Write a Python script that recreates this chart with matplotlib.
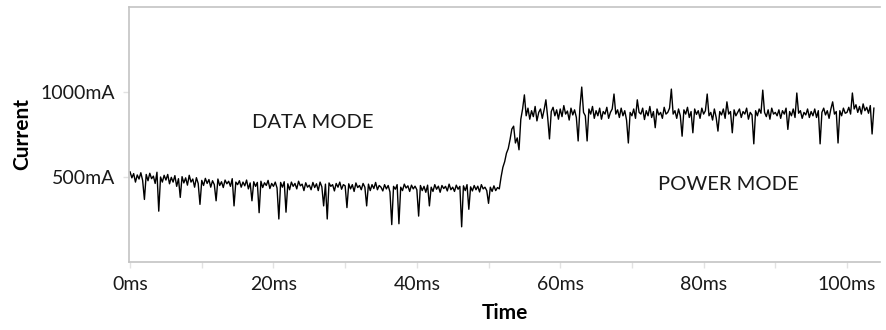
import matplotlib
matplotlib.use("Agg")
import matplotlib.pyplot as plt
import numpy as np

plt.rcParams['font.family'] = ['Lato', 'DejaVu Sans']

dt_ms = 0.25
current_ma = [
    530, 495, 520, 470, 512, 488, 525, 480, 368, 515, 478, 522, 490, 505, 462, 528, 299, 500, 470, 510,
    482, 515, 460, 498, 470, 508, 445, 490, 380, 502, 465, 495, 452, 510, 470, 488, 440, 496, 462, 339,
    480, 450, 492, 462, 485, 440, 478, 455, 360, 488, 450, 472, 438, 482, 460, 475, 445, 490, 330, 470,
    455, 478, 440, 470, 448, 482, 430, 465, 360, 472, 445, 468, 290, 475, 438, 466, 450, 480, 432, 462,
    445, 470, 435, 253, 468, 440, 472, 293, 460, 425, 470, 445, 462, 430, 475, 448, 458, 420, 466, 440,
    452, 425, 468, 438, 460, 420, 470, 442, 330, 458, 253, 465, 445, 455, 418, 462, 440, 470, 428, 455,
    448, 320, 460, 430, 455, 415, 465, 438, 450, 425, 462, 440, 330, 458, 420, 455, 432, 468, 425, 450,
    440, 418, 455, 430, 450, 412, 220, 445, 428, 455, 225, 440, 420, 458, 435, 448, 415, 452, 430, 446,
    425, 270, 450, 420, 445, 410, 452, 330, 440, 415, 455, 428, 446, 410, 450, 432, 445, 418, 458, 425,
    440, 415, 452, 428, 445, 207, 448, 420, 455, 310, 442, 418, 450, 425, 446, 412, 455, 430, 440, 420,
    345, 440, 415, 448, 420, 438, 430, 500, 557, 590, 640, 667, 720, 782, 799, 700, 730, 660, 839, 900,
    983, 860, 905, 840, 890, 855, 915, 830, 880, 900, 845, 895, 954, 850, 724, 885, 910, 860, 895, 840,
    900, 855, 920, 870, 888, 835, 905, 865, 895, 850, 712, 910, 1029, 880, 860, 712, 900, 870, 915, 845,
    890, 860, 905, 840, 885, 870, 910, 845, 880, 900, 988, 870, 895, 850, 905, 860, 890, 835, 700, 880,
    860, 900, 845, 954, 880, 870, 905, 838, 890, 860, 915, 850, 885, 790, 900, 865, 880, 845, 910, 870,
    880, 905, 1017, 870, 890, 845, 900, 860, 740, 895, 870, 910, 850, 885, 760, 900, 868, 890, 845, 905,
    870, 890, 988, 860, 880, 835, 900, 850, 770, 885, 865, 900, 845, 942, 870, 885, 760, 895, 860, 880,
    900, 850, 885, 870, 905, 840, 880, 865, 695, 890, 860, 900, 875, 1011, 880, 855, 895, 840, 905, 870,
    880, 860, 895, 845, 890, 870, 905, 780, 885, 860, 900, 850, 994, 875, 890, 845, 880, 865, 900, 850,
    885, 860, 900, 850, 890, 695, 880, 905, 865, 890, 845, 900, 942, 870, 885, 700, 890, 860, 905, 875,
    880, 910, 870, 994, 900, 925, 880, 915, 870, 930, 890, 910, 875, 920, 753, 905,
]
time_ms = np.arange(len(current_ma)) * dt_ms

y_labels = ['500mA', '1000mA']
y_label_pos = [500, 1000]

fig = plt.figure(figsize=(8.86, 3.30), dpi=100)
ax = fig.add_axes([0.1456, 0.2061, 0.8476, 0.7727])

ax.plot(time_ms, current_ma, color='black', lw=1.0)

ax.set_xlim(-0.15, 104.6)
ax.set_ylim(0, 1500)

grey = '#c4c4c4'
for side in ['top', 'right']:
    ax.spines[side].set_visible(False)
for side in ['left', 'bottom']:
    ax.spines[side].set_color(grey)
    ax.spines[side].set_linewidth(1.2)
ax.axhline(1500, color=grey, lw=1.2, clip_on=False)

# ticks every 10 ms, labels every 20 ms
ax.set_xticks(np.arange(0, 110, 10))
ax.set_xticklabels(['' if v % 20 else '%dms' % v for v in range(0, 110, 10)])
ax.set_yticks(y_label_pos)
ax.set_yticklabels(y_labels)
ax.tick_params(axis='both', colors='#e2e2e2', labelcolor='#1a1a1a', labelsize=14, length=4, width=1)
ax.tick_params(axis='x', pad=6)
ax.tick_params(axis='y', pad=6)

ax.set_xlabel('Time', fontsize=15, fontweight='bold', labelpad=7)
ax.set_ylabel('Current', fontsize=15, fontweight='bold', labelpad=6)

ax.text(25.5, 822, 'DATA MODE', fontsize=14.5, ha='center', va='center', color='#1a1a1a')
ax.text(83.5, 454, 'POWER MODE', fontsize=14.5, ha='center', va='center', color='#1a1a1a')

fig.savefig('out.png', dpi=100, facecolor='white')
